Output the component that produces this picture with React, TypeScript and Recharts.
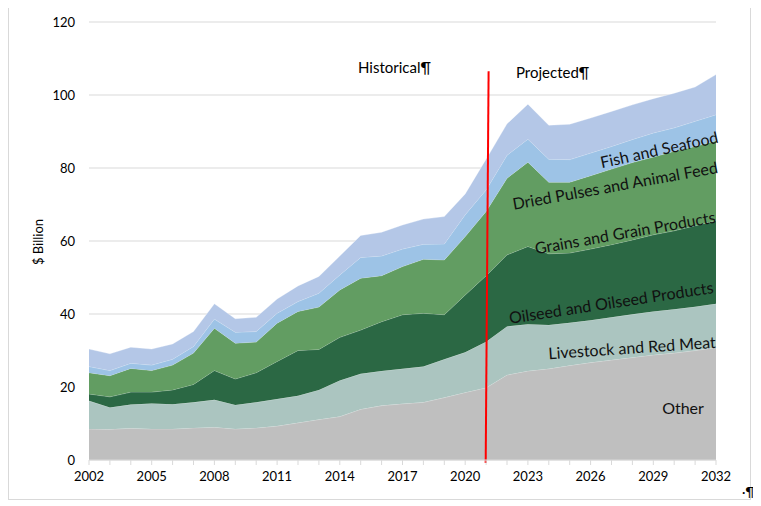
import React from 'react'
import { AreaChart, Area, XAxis, YAxis, CartesianGrid, ReferenceLine } from 'recharts'

// years 2002..2032, $ billion
const years = [
  2002, 2003, 2004, 2005, 2006, 2007, 2008, 2009, 2010, 2011, 2012, 2013, 2014, 2015, 2016, 2017,
  2018, 2019, 2020, 2021, 2022, 2023, 2024, 2025, 2026, 2027, 2028, 2029, 2030, 2031, 2032,
]
const other = [
  8.5, 8.4, 8.7, 8.5, 8.5, 8.8, 9.0, 8.5, 8.8, 9.3, 10.2, 11.1, 11.9, 13.9, 14.9, 15.4,
  15.8, 17.1, 18.5, 19.8, 23.3, 24.4, 25.0, 25.9, 26.7, 27.4, 28.1, 28.8, 29.3, 30.0, 30.8,
]
const livestock = [
  7.7, 6.0, 6.5, 7.0, 6.8, 7.0, 7.5, 6.6, 7.0, 7.4, 7.4, 8.1, 9.9, 9.7, 9.5, 9.6,
  9.8, 10.5, 11.0, 12.6, 13.3, 12.8, 12.0, 11.7, 11.6, 11.7, 11.8, 11.9, 12.0, 12.0, 12.0,
]
const oilseed = [
  1.9, 2.9, 3.4, 3.1, 3.9, 4.9, 8.0, 7.1, 8.1, 10.3, 12.4, 11.1, 11.8, 12.0, 13.5, 14.8,
  14.6, 12.2, 15.7, 18.1, 19.6, 21.3, 19.5, 19.1, 19.5, 19.9, 20.4, 21.0, 21.5, 22.2, 22.8,
]
const grains = [
  5.8, 5.8, 6.5, 5.9, 6.8, 8.6, 11.6, 9.8, 8.4, 10.5, 10.7, 11.6, 13.0, 14.2, 12.6, 13.2,
  14.8, 15.0, 16.0, 17.6, 21.0, 23.1, 19.6, 19.4, 20.1, 20.7, 21.2, 21.3, 21.8, 21.7, 21.9,
]
const pulses = [
  1.7, 1.4, 1.4, 1.5, 1.6, 1.8, 2.5, 3.0, 2.9, 2.7, 2.7, 3.8, 4.1, 5.7, 5.4, 4.8,
  4.1, 4.4, 6.0, 5.9, 6.3, 6.3, 6.3, 6.2, 6.2, 6.2, 6.3, 6.6, 6.4, 6.9, 7.1,
]
const fish = [
  4.8, 4.6, 4.4, 4.4, 4.2, 4.1, 4.2, 3.7, 3.9, 3.9, 4.3, 4.6, 5.2, 6.0, 6.5, 6.6,
  6.9, 7.5, 5.7, 8.4, 8.6, 9.6, 9.3, 9.7, 9.6, 9.6, 9.5, 9.4, 9.5, 9.4, 11.0,
]
const xTickLabels = [2002, 2005, 2008, 2011, 2014, 2017, 2020, 2023, 2026, 2029, 2032]
const yTicks = [0, 20, 40, 60, 80, 100, 120]

const data = years.map((year, i) => ({
  year,
  other: other[i],
  livestock: livestock[i],
  oilseed: oilseed[i],
  grains: grains[i],
  pulses: pulses[i],
  fish: fish[i],
}))

const FONT = 'Lato, "Open Sans", sans-serif'

const series = [
  { key: 'other', color: '#bfbfbf' },
  { key: 'livestock', color: '#abc5c0' },
  { key: 'oilseed', color: '#2b6844' },
  { key: 'grains', color: '#629d62' },
  { key: 'pulses', color: '#9dc3e6' },
  { key: 'fish', color: '#b4c7e7' },
]

// labels on the bands (page coords minus 8px body margin)
const bandLabels = [
  { text: 'Other', x: 675, y: 399, angle: 0 },
  { text: 'Livestock and Red Meat', x: 624, y: 339, angle: -3.9 },
  { text: 'Oilseed and Oilseed Products', x: 603, y: 294, angle: -8.6 },
  { text: 'Grains and Grain Products', x: 617, y: 224, angle: -10 },
  { text: 'Dried Pulses and Animal Feed', x: 607, y: 177, angle: -10.2 },
  { text: 'Fish and Seafood', x: 651, y: 141, angle: -12.3 },
]

export default function App() {
  return (
    <div style={{ position: 'relative', width: 745, height: 493, fontFamily: FONT }}>
      <div
        style={{
          position: 'absolute',
          left: 0,
          top: -1,
          width: 741,
          height: 491,
          border: '1px solid #d9d9d9',
        }}
      />
      <AreaChart
        width={745}
        height={493}
        data={data}
        margin={{ top: 14, right: 37, bottom: 11, left: 0 }}
      >
        <CartesianGrid vertical={false} stroke="#d9d9d9" />
        <XAxis
          dataKey="year"
          type="number"
          domain={[2002, 2032]}
          ticks={years}
          interval={0}
          tickFormatter={(v) => (xTickLabels.includes(v) ? String(v) : '')}
          stroke="#d9d9d9"
          tickSize={5}
          tickMargin={7}
          tick={{ fill: '#000', fontSize: 13, fontFamily: FONT }}
        />
        <YAxis
          width={81}
          domain={[0, 120]}
          ticks={yTicks}
          axisLine={false}
          tickLine={false}
          tickMargin={8}
          tick={{ fill: '#000', fontSize: 13, fontFamily: FONT }}
        />
        {series.map((s) => (
          <Area
            key={s.key}
            type="linear"
            dataKey={s.key}
            stackId="1"
            stroke="#ffffff"
            strokeOpacity={0.5}
            strokeWidth={0.6}
            fill={s.color}
            fillOpacity={1}
            isAnimationActive={false}
          />
        ))}
        <ReferenceLine
          segment={[
            { x: 2021.12, y: 106.5 },
            { x: 2020.98, y: -0.8 },
          ]}
          stroke="#ff0000"
          strokeWidth={2}
          ifOverflow="visible"
        />
      </AreaChart>
      <svg
        width={745}
        height={493}
        style={{ position: 'absolute', left: 0, top: 0, pointerEvents: 'none' }}
      >
        <text
          x={30}
          y={234}
          transform="rotate(-90 30 234)"
          textAnchor="middle"
          dominantBaseline="central"
          fontSize={13}
          fontFamily={FONT}
          fill="#000"
        >
          $ Billion
        </text>
        <text x={350} y={59} dominantBaseline="central" fontSize={15} fontFamily={FONT} fill="#000">
          Historical¶
        </text>
        <text x={508} y={64} dominantBaseline="central" fontSize={15} fontFamily={FONT} fill="#000">
          Projected¶
        </text>
        {bandLabels.map((l) => (
          <text
            key={l.text}
            x={l.x}
            y={l.y}
            transform={`rotate(${l.angle} ${l.x} ${l.y})`}
            textAnchor="middle"
            dominantBaseline="central"
            fontSize={16}
            fontFamily={FONT}
            fill="#111"
          >
            {l.text}
          </text>
        ))}
        <text x={734} y={484} dominantBaseline="central" fontSize={13} fontFamily={FONT} fill="#000">
          ·¶
        </text>
      </svg>
    </div>
  )
}
